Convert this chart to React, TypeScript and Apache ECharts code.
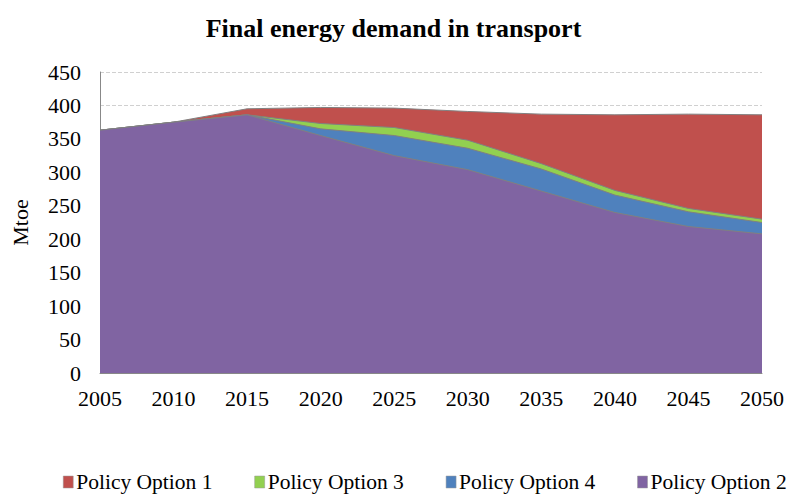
import React, { useEffect, useRef } from "react";
import * as echarts from "echarts";

const years = ["2005", "2010", "2015", "2020", "2025", "2030", "2035", "2040", "2045", "2050"];
const option1 = [363, 375, 395, 397, 396, 391, 387, 386, 387, 386];
const option3 = [363, 375, 386, 373, 367, 348, 313, 273, 246, 230];
const option4 = [363, 375, 386, 365, 355, 336, 305, 266, 241, 225];
const option2 = [363, 375, 386, 355, 325, 304, 272, 240, 219, 208];

const seriesNames = ["Policy Option 1", "Policy Option 3", "Policy Option 4", "Policy Option 2"];
const seriesColors = ["#C0504D", "#92D050", "#4F81BD", "#8064A2"];
const seriesData = [option1, option3, option4, option2];

const FONT = "'Liberation Serif', 'Times New Roman', serif";

export default function App() {
  const ref = useRef<HTMLDivElement>(null);
  useEffect(() => {
    if (!ref.current) return;
    const chart = echarts.init(ref.current, null, { renderer: "svg" });
    chart.setOption({
      animation: false,
      backgroundColor: "#ffffff",
      title: {
        text: "Final energy demand in transport",
        left: "center",
        top: 10,
        textStyle: { fontFamily: FONT, fontSize: 26, fontWeight: "bold", color: "#000" },
      },
      legend: {
        bottom: -1,
        left: 58,
        width: 760,
        padding: 5,
        itemWidth: 10,
        itemHeight: 12,
        itemGap: 42,
        icon: "rect",
        textStyle: { fontFamily: FONT, fontSize: 21.5, color: "#000", padding: [0, 0, 0, -2] },
        data: seriesNames.map((n, i) => ({
          name: n,
          itemStyle: { color: seriesColors[i], borderColor: "#999", borderWidth: 0.5 },
        })),
      },
      grid: { left: 100, right: 25, top: 72, bottom: 124 },
      xAxis: {
        type: "category",
        data: years,
        boundaryGap: false,
        axisLine: { lineStyle: { color: "#888" } },
        axisTick: { show: false },
        axisLabel: { fontFamily: FONT, fontSize: 22, color: "#000", margin: 14 },
      },
      yAxis: {
        type: "value",
        min: 0,
        max: 450,
        interval: 50,
        name: "Mtoe",
        nameLocation: "middle",
        nameGap: 69,
        nameTextStyle: { fontFamily: FONT, fontSize: 22, color: "#000" },
        axisLine: { show: true, lineStyle: { color: "#888" } },
        axisTick: { show: false },
        axisLabel: { fontFamily: FONT, fontSize: 22, color: "#000", margin: 19 },
        splitLine: { lineStyle: { color: "#d0d0d0", type: "dashed" } },
      },
      series: seriesNames.map((n, i) => ({
        name: n,
        type: "line",
        data: seriesData[i],
        symbol: "none",
        z: 2 + i,
        lineStyle: { color: "#808080", width: 1 },
        itemStyle: { color: seriesColors[i] },
        areaStyle: { color: seriesColors[i], opacity: 1 },
      })),
    });
    return () => chart.dispose();
  }, []);
  return <div ref={ref} style={{ width: 787, height: 497, position: "absolute", left: 0, top: 0 }} />;
}
